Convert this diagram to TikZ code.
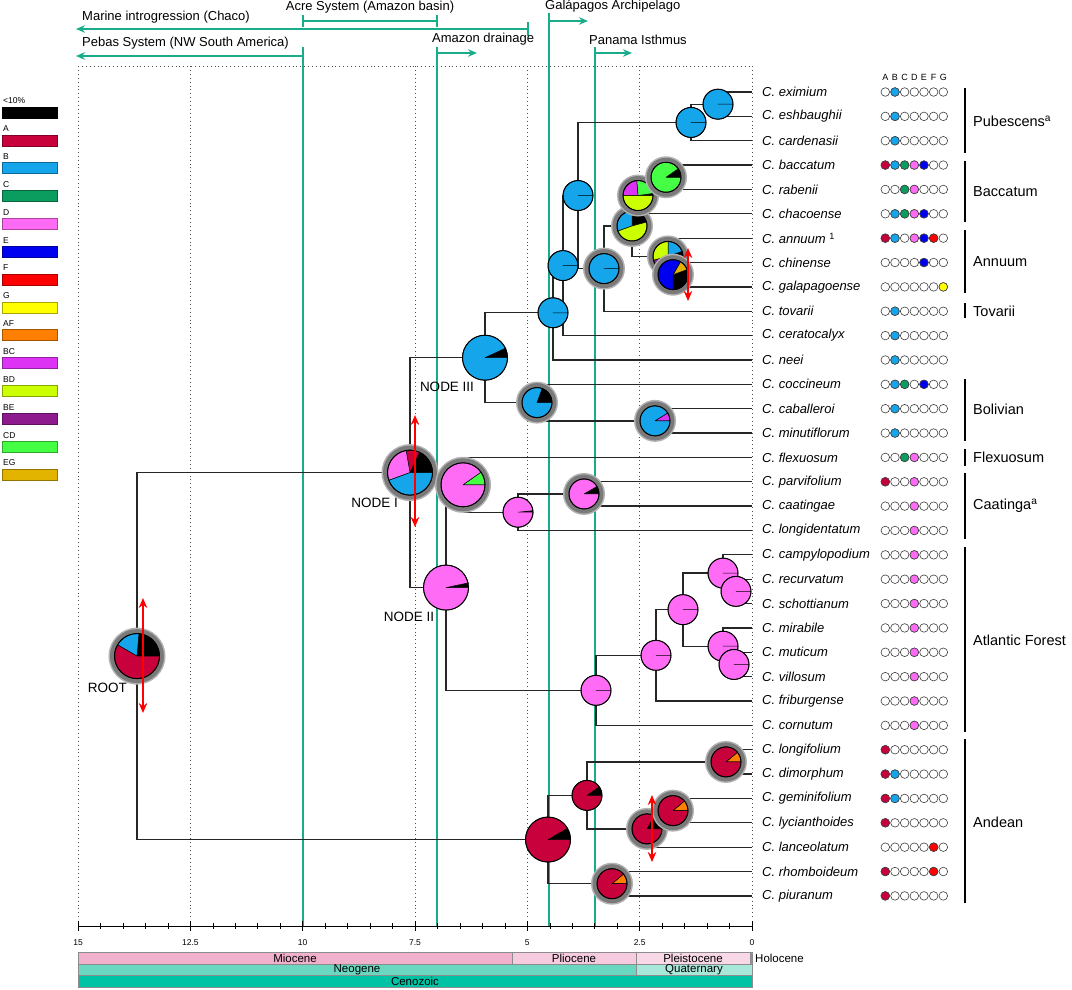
\documentclass[tikz,border=0pt]{standalone}
\usepackage{fontspec}
\setmainfont{Liberation Sans}
\usetikzlibrary{arrows,arrows.meta,calc}

%Area colours
\definecolor{col1}{HTML}{C8003C}
\definecolor{col2}{HTML}{14A5EB}
\definecolor{col3}{HTML}{0B9D5F}
\definecolor{col4}{HTML}{FF6BF5}
\definecolor{col5}{HTML}{0000F0}
\definecolor{col6}{HTML}{FF0000}
\definecolor{col7}{HTML}{FFFF00}
\definecolor{colAF}{HTML}{FF8000}
\definecolor{colBC}{HTML}{DD33F5}
\definecolor{colBD}{HTML}{CCFF00}
\definecolor{colBE}{HTML}{8E1B8E}
\definecolor{colCD}{HTML}{44FF44}
\definecolor{colEG}{HTML}{E2B400}
%Time scale colours
\definecolor{evgreen}{HTML}{19AC8B}
\definecolor{miocene}{HTML}{F1B1CD}
\definecolor{pliocene}{HTML}{F6CBDF}
\definecolor{pleisto}{HTML}{F8D8E6}
\definecolor{holocene}{HTML}{E2689A}
\definecolor{neogene}{HTML}{6AD7C1}
\definecolor{quatern}{HTML}{A8E8DB}
\definecolor{cenozoic}{HTML}{00C3A6}

\tikzset{
  branch/.style={line width=1.3, black!85},
  event/.style={evgreen, line width=1.8},
  eventarrow/.style={event, -{Stealth[length=9pt,width=7.5pt]}},
  griddot/.style={black!70, line width=0.9, dash pattern=on 0.9pt off 3pt},
  tiplabel/.style={anchor=west, inner sep=0pt, font=\fontsize{13}{15}\selectfont\itshape},
  cladelabel/.style={anchor=west, inner sep=0pt, font=\fontsize{14.5}{17}\selectfont},
  cladebar/.style={line width=1.6, black},
  nodelabel/.style={inner sep=0pt, font=\fontsize{13.5}{16}\selectfont},
  eventlabel/.style={inner sep=0pt, font=\fontsize{13}{15}\selectfont},
  leglabel/.style={anchor=west, inner sep=0pt, font=\fontsize{8.5}{9}\selectfont},
  axlabel/.style={inner sep=0pt, font=\fontsize{8.5}{9}\selectfont},
  geolabel/.style={inner sep=0pt, font=\fontsize{11.5}{12}\selectfont},
  rng/.style={draw=black!75, line width=0.6},
  rangearrow/.style={red, line width=2.6, {Stealth[length=10pt,width=8.5pt]}-{Stealth[length=10pt,width=8.5pt]}},
}

%Pie chart: centre, radius, slices start/end/colour (degrees anticlockwise from east)
\newcommand{\drawpie}[3]{%
  \foreach \sa/\sb/\sc in {#3}
    \filldraw[fill=\sc, draw=black, line width=0.5, line join=round] (#1) -- ++(-\sa:#2) arc[start angle=-\sa, end angle=-\sb, radius=#2] -- cycle;
  \draw[line width=1] (#1) circle[radius=#2];
}
\newcommand{\piehalo}[2]{%
  \fill[black!30] (#1) circle[radius={#2+6}];
  \fill[black!52] (#1) circle[radius={#2+4.5}];
}

\begin{document}
\begin{tikzpicture}[x=1pt, y=-1pt, >=stealth]
\useasboundingbox (0,0) rectangle (1072,989);
\fill[white] (0,0) rectangle (1072,989);

%Legend
\foreach \lab/\col [count=\i from 0] in {<10\%/black, A/col1, B/col2, C/col3, D/col4, E/col5, F/col6, G/col7, AF/colAF, BC/colBC, BD/colBD, BE/colBE, CD/colCD, EG/colEG} {
  \node[leglabel] (g\i) at (3, {101+27.84*\i}) {\lab};
  \filldraw[fill=\col, draw=\col!65!black, line width=0.6] (2, {107+27.84*\i}) rectangle (57, {118+27.84*\i});
}

%Time grid
\draw[griddot] (78,66) -- (752,66);
\foreach \j in {0,...,6}
  \draw[griddot] ({78+112.33*\j},66) -- ({78+112.33*\j},920);

%Events
\foreach \x/\yt in {303/47, 437/47, 549/13, 595/47}
  \draw[event] (\x,\yt) -- (\x,926);
\draw[event] (303,15) -- (303,27) (303,21) -- (437,21) (437,15) -- (437,27);
\draw[eventarrow] (528,29) -- (76,29);
\draw[event] (528,22) -- (528,36);
\draw[eventarrow] (303,56) -- (76,56);
\draw[eventarrow] (437,53) -- (477,53);
\draw[eventarrow] (549,21) -- (588,21);
\draw[eventarrow] (595,53) -- (632,53);
\node[eventlabel] (eAcre) at (370,7) {Acre System (Amazon basin)};
\node[eventlabel, anchor=west] (eMar) at (82,17) {Marine introgression (Chaco)};
\node[eventlabel, anchor=west] (ePeb) at (82,43) {Pebas System (NW South America)};
\node[eventlabel, anchor=west] (eAmz) at (432,39) {Amazon drainage};
\node[eventlabel, anchor=west] (eGal) at (545,6) {Galápagos Archipelago};
\node[eventlabel, anchor=west] (ePan) at (589,40) {Panama Isthmus};

%Axis
\draw[line width=0.8] (78,926) -- (752,926);
\foreach \j in {0,...,30}
  \draw[line width=0.6] ({752-22.465*\j},923) -- ({752-22.465*\j},929);
\foreach \v [count=\j from 0] in {0,2.5,5,7.5,10,12.5,15} {
  \draw[line width=0.8] ({752-112.33*\j},921) -- ({752-112.33*\j},931);
  \node[axlabel] (ax\j) at ({752-112.33*\j},943) {\v};
}

%Geological time scale
\filldraw[fill=miocene, draw=black!45, line width=0.5] (78,952) rectangle (512.5,964);
\filldraw[fill=pliocene, draw=black!45, line width=0.5] (512.5,952) rectangle (636,964);
\filldraw[fill=pleisto, draw=black!45, line width=0.5] (636,952) rectangle (750.5,964);
\filldraw[fill=holocene, draw=black!45, line width=0.5] (750.5,952) rectangle (752.5,964);
\filldraw[fill=neogene, draw=black!45, line width=0.5] (78,964) rectangle (636,975);
\filldraw[fill=quatern, draw=black!45, line width=0.5] (636,964) rectangle (752,975);
\filldraw[fill=cenozoic, draw=black!45, line width=0.5] (78,975) rectangle (752,987);
\node[geolabel] (gMio) at (295,958) {Miocene};
\node[geolabel] (gPli) at (574,958) {Pliocene};
\node[geolabel] (gPle) at (693,958) {Pleistocene};
\node[geolabel, anchor=west] (gHol) at (755,958) {Holocene};
\node[geolabel] (gNeo) at (357,969.5) {Neogene};
\node[geolabel] (gQua) at (694,969.5) {Quaternary};
\node[geolabel] (gCen) at (415,981) {Cenozoic};

%Tips
\foreach \nm [count=\i from 0] in {eximium, eshbaughii, cardenasii, baccatum, rabenii, chacoense, {annuum\ \textsuperscript{\upshape 1}}, chinense, galapagoense, tovarii, ceratocalyx, neei, coccineum, caballeroi, minutiflorum, flexuosum, parvifolium, caatingae, longidentatum, campylopodium, recurvatum, schottianum, mirabile, muticum, villosum, friburgense, cornutum, longifolium, dimorphum, geminifolium, lycianthoides, lanceolatum, rhomboideum, piuranum} {
  \coordinate (t\i) at (752, {92+24.36*\i});
  \node[tiplabel] (l\i) at (762, {92+24.36*\i}) {C. \nm};
}

%Areas per tip
\foreach \L [count=\k from 0] in {A,...,G}
  \node[axlabel, font=\fontsize{9}{10}\selectfont] (h\L) at ({885.3+9.67*\k}, 77) {\L};
\foreach \i in {0,...,33}
  \foreach \k in {0,...,6}
    \filldraw[rng, fill=white] ({885.3+9.67*\k}, {92+24.36*\i}) circle[radius=4.3];
\foreach \i in {3,6,16,27,28,29,30,32,33}
  \filldraw[rng, fill=col1] (885.3, {92+24.36*\i}) circle[radius=4.3];
\foreach \i in {0,1,2,3,5,6,9,10,11,12,13,14,28,29}
  \filldraw[rng, fill=col2] (894.97, {92+24.36*\i}) circle[radius=4.3];
\foreach \i in {3,4,5,12,15}
  \filldraw[rng, fill=col3] (904.64, {92+24.36*\i}) circle[radius=4.3];
\foreach \i in {3,4,5,6,15,16,17,18,19,20,21,22,23,24,25,26}
  \filldraw[rng, fill=col4] (914.31, {92+24.36*\i}) circle[radius=4.3];
\foreach \i in {3,5,6,7,12}
  \filldraw[rng, fill=col5] (923.98, {92+24.36*\i}) circle[radius=4.3];
\foreach \i in {6,31,32}
  \filldraw[rng, fill=col6] (933.65, {92+24.36*\i}) circle[radius=4.3];
\foreach \i in {8}
  \filldraw[rng, fill=col7] (943.32, {92+24.36*\i}) circle[radius=4.3];

%Clades
\foreach \ya/\yb/\ym/\lab [count=\i] in {88/153/121/Pubescens\textsuperscript{a}, 161/222/192/Baccatum, 230/293/262/Annuum, 303/318/311/Tovarii, 379/441/409/Bolivian, 449/466/457/Flexuosum, 473/539/506/Caatinga\textsuperscript{a}, 547/732/640/Atlantic Forest, 739/903/822/Andean} {
  \draw[cladebar] (965,\ya) -- (965,\yb);
  \node[cladelabel] (c\i) at (973,\ym) {\lab};
}

%Internal nodes
\coordinate (nRoot) at (137,656.09);
\coordinate (nI1) at (410,472.63);
\coordinate (nII) at (446,587.58);
\coordinate (nIII) at (485,357.68);
\coordinate (nFl) at (463,484.81);
\coordinate (nCa) at (518,512.21);
\coordinate (nCa2) at (584,493.94);
\coordinate (nBo) at (537,402.59);
\coordinate (nBo2) at (655,420.86);
\coordinate (nD) at (553,312.77);
\coordinate (nB) at (563,265.57);
\coordinate (nA) at (578,195.53);
\coordinate (nC) at (604,268.61);
\coordinate (nE) at (632,225.98);
\coordinate (nF) at (638,195.53);
\coordinate (nG) at (666,177.26);
\coordinate (nH) at (668,256.43);
\coordinate (nI) at (673,274.70);
\coordinate (nPb) at (691,122.45);
\coordinate (nPa) at (718,104.18);
\coordinate (nAF) at (596,690.34);
\coordinate (nAF2) at (656,655.33);
\coordinate (nAF3) at (683,609.65);
\coordinate (nAF4a) at (723,573.11);
\coordinate (nAF5a) at (736,591.38);
\coordinate (nAF4b) at (723,646.19);
\coordinate (nAF5b) at (734,664.46);
\coordinate (nAn) at (548,839.55);
\coordinate (nAn2) at (587,795.40);
\coordinate (nAn3) at (647,828.89);
\coordinate (nAn4) at (673,810.62);
\coordinate (nAn5) at (726,761.90);
\coordinate (nAn6) at (612,883.70);

%Branches
\foreach \p/\c in {nRoot/nI1, nRoot/nAn, nI1/nIII, nI1/nII, nIII/nD, nIII/nBo, nD/nB, nD/t11, nB/nA, nB/t10, nA/nPb, nA/nC, nPb/nPa, nPb/t2, nPa/t0, nPa/t1, nC/nE, nC/t9, nE/nF, nE/nH, nF/nG, nF/t5, nG/t3, nG/t4, nH/t6, nH/nI, nI/t7, nI/t8, nBo/t12, nBo/nBo2, nBo2/t13, nBo2/t14, nII/nFl, nII/nAF, nFl/t15, nFl/nCa, nCa/nCa2, nCa/t18, nCa2/t16, nCa2/t17, nAF/nAF2, nAF/t26, nAF2/nAF3, nAF2/t25, nAF3/nAF4a, nAF3/nAF4b, nAF4a/t19, nAF4a/nAF5a, nAF5a/t20, nAF5a/t21, nAF4b/t22, nAF4b/nAF5b, nAF5b/t23, nAF5b/t24, nAn/nAn2, nAn/nAn6, nAn2/nAn5, nAn2/nAn3, nAn5/t27, nAn5/t28, nAn3/nAn4, nAn3/t31, nAn4/t29, nAn4/t30, nAn6/t32, nAn6/t33}
  \draw[branch] (\p) |- (\c);

%Pies
\piehalo{nRoot}{22.5}
\drawpie{nRoot}{22.5}{0/85/black, 85/150/col2, 150/360/col1}
\piehalo{nI1}{22.5}
\drawpie{nI1}{22.5}{0/65/black, 65/100/col1, 100/200/col4, 200/360/col2}
\drawpie{nII}{22.5}{0/12/black, 12/360/col4}
\piehalo{nFl}{22}
\drawpie{nFl}{22}{0/35/colCD, 35/360/col4}
\drawpie{nIII}{22.5}{0/25/black, 25/360/col2}
\drawpie{nCa}{15}{0/6/black, 6/360/col4}
\piehalo{nBo}{15}
\drawpie{nBo}{15}{0/70/black, 70/360/col2}
\drawpie{nAn}{22.5}{0/30/black, 30/360/col1}
\drawpie{nD}{15}{0/360/col2}
\drawpie{nB}{15}{0/360/col2}
\drawpie{nA}{15}{0/360/col2}
\piehalo{nCa2}{15}
\drawpie{nCa2}{15}{0/30/black, 30/360/col4}
\drawpie{nAn2}{15}{0/35/black, 35/360/col1}
\drawpie{nAF}{15}{0/360/col4}
\piehalo{nC}{15}
\drawpie{nC}{15}{0/360/col2}
\piehalo{nAn6}{15}
\drawpie{nAn6}{15}{0/40/colAF, 40/360/col1}
\piehalo{nE}{15}
\drawpie{nE}{15}{15/90/black, 90/200/col2, 200/375/colBD}
\piehalo{nF}{15}
\drawpie{nF}{15}{0/8/black, 8/95/colCD, 95/180/colBC, 180/360/colBD}
\piehalo{nAn3}{15}
\drawpie{nAn3}{15}{0/60/black, 60/360/col1}
\piehalo{nBo2}{15}
\drawpie{nBo2}{15}{0/32/colBC, 32/360/col2}
\drawpie{nAF2}{15}{0/360/col4}
\piehalo{nG}{15}
\drawpie{nG}{15}{0/35/black, 35/360/colCD}
\piehalo{nH}{15}
\drawpie{nH}{15}{320/380/black, 20/90/col2, 90/195/colBD, 195/320/colBE}
\piehalo{nI}{15}
\drawpie{nI}{15}{270/380/black, 20/60/colEG, 60/270/col5}
\piehalo{nAn4}{15}
\drawpie{nAn4}{15}{0/40/colAF, 40/360/col1}
\drawpie{nAF3}{15}{0/360/col4}
\drawpie{nPb}{15}{0/360/col2}
\drawpie{nPa}{15}{0/360/col2}
\drawpie{nAF4a}{15}{0/360/col4}
\drawpie{nAF4b}{15}{0/360/col4}
\piehalo{nAn5}{15}
\drawpie{nAn5}{15}{0/40/colAF, 40/360/col1}
\drawpie{nAF5b}{15}{0/360/col4}
\drawpie{nAF5a}{15}{0/360/col4}

%Dispersal arrows
\coordinate (rR1) at (143,598);
\coordinate (rR2) at (143,713);
\coordinate (rI1) at (415,415);
\coordinate (rI2) at (415,527);
\coordinate (rG1) at (688,248);
\coordinate (rG2) at (688,301);
\coordinate (rA1) at (652,795);
\coordinate (rA2) at (652,862);
\draw[rangearrow] (rR1) -- (rR2);
\draw[rangearrow] (rI1) -- (rI2);
\draw[rangearrow] (rG1) -- (rG2);
\draw[rangearrow] (rA1) -- (rA2);

%Node names
\node[nodelabel, anchor=east] (labRoot) at (127,688) {ROOT};
\node[nodelabel, anchor=east] (labI) at (398,503) {NODE I};
\node[nodelabel] (labII) at (409,617) {NODE II};
\node[nodelabel] (labIII) at (447,387) {NODE III};
\end{tikzpicture}
\end{document}
